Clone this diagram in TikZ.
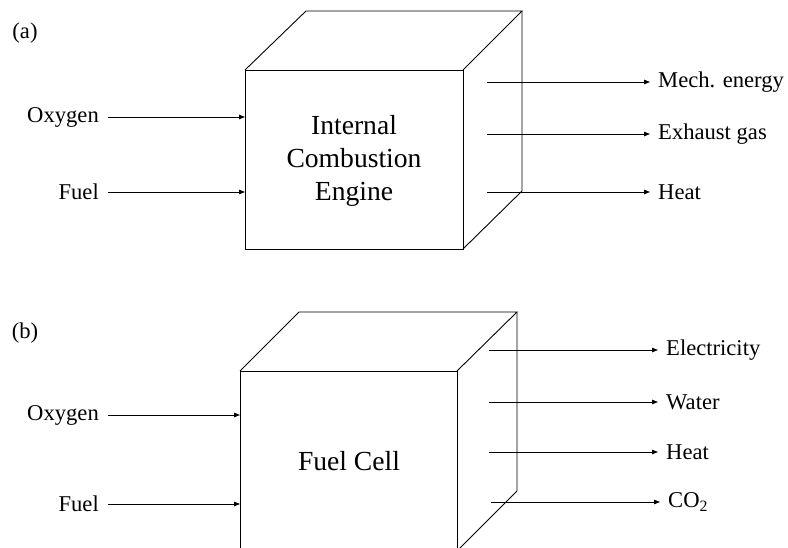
\documentclass[tikz,border=0pt]{standalone}
\usepackage{fontspec}
\setmainfont{Liberation Serif}
\usetikzlibrary{arrows.meta}
\begin{document}
\begin{tikzpicture}[x=1pt,y=-1pt,
  edge/.style={line width=0.9pt},
  arr/.style={line width=0.9pt,-{Triangle[length=6pt,width=4.5pt]}},
  lbl/.style={font=\fontsize{22.6}{26}\selectfont,inner sep=0pt},
  big/.style={font=\fontsize{27.6}{33}\selectfont,align=center,inner sep=0pt}]
\useasboundingbox (0,0) rectangle (788,548);
\begin{scope}
\clip (0,0) rectangle (788,548);
% ---- cube (a)
\coordinate (aFTL) at (245,70);
\coordinate (aFTR) at (463,70);
\coordinate (aFBR) at (463,249);
\coordinate (aFBL) at (245,249);
\coordinate (aBTL) at (306,11);
\coordinate (aBTR) at (522,11);
\coordinate (aBBR) at (522,191);
\draw[edge] (aFTL) -- (aFTR) -- (aFBR) -- (aFBL) -- cycle;
\draw[edge] (aFTL) -- (aBTL) -- (aBTR) -- (aFTR);
\draw[edge] (aBTR) -- (aBBR) -- (aFBR);
% ---- cube (b)
\coordinate (bFTL) at (240,371);
\coordinate (bFTR) at (457,371);
\coordinate (bFBR) at (457,551);
\coordinate (bFBL) at (240,551);
\coordinate (bBTL) at (299,312);
\coordinate (bBTR) at (517,312);
\coordinate (bBBR) at (517,491);
\draw[edge] (bFTL) -- (bFTR) -- (bFBR) -- (bFBL) -- cycle;
\draw[edge] (bFTL) -- (bBTL) -- (bBTR) -- (bFTR);
\draw[edge] (bBTR) -- (bBBR) -- (bFBR);
\end{scope}
% ---- labels
\node[lbl] (tagA) at (25,33) {(a)};
\node[lbl] (tagB) at (25,333) {(b)};
\node[big] (ice) at (354,161) {Internal\\Combustion\\Engine};
\node[big] (fc) at (349,461) {Fuel Cell};
% inputs (a)
\node[lbl,anchor=east] (oxyA) at (99,117) {Oxygen};
\node[lbl,anchor=east] (fuelA) at (99,192) {Fuel};
\coordinate (inA1) at (245,117);
\coordinate (inA2) at (245,192);
\draw[arr] ([xshift=9pt]oxyA.east) -- (inA1);
\draw[arr] ([xshift=9pt]fuelA.east) -- (inA2);
% outputs (a)
\node[lbl,anchor=west] (mechA) at (658,82) {Mech. energy};
\node[lbl,anchor=west] (exhA) at (658,134) {Exhaust gas};
\node[lbl,anchor=west] (heatA) at (658,192) {Heat};
\coordinate (outA1) at (487,82);
\coordinate (outA2) at (487,134);
\coordinate (outA3) at (487,192);
\draw[arr] (outA1) -- ([xshift=-8pt]mechA.west);
\draw[arr] (outA2) -- ([xshift=-8pt]exhA.west);
\draw[arr] (outA3) -- ([xshift=-8pt]heatA.west);
% inputs (b)
\node[lbl,anchor=east] (oxyB) at (99,415) {Oxygen};
\node[lbl,anchor=east] (fuelB) at (99,504) {Fuel};
\coordinate (inB1) at (240,415);
\coordinate (inB2) at (240,504);
\draw[arr] ([xshift=9pt]oxyB.east) -- (inB1);
\draw[arr] ([xshift=9pt]fuelB.east) -- (inB2);
% outputs (b)
\node[lbl,anchor=west] (elecB) at (666,350) {Electricity};
\node[lbl,anchor=west] (watB) at (666,402) {Water};
\node[lbl,anchor=west] (heatB) at (666,452) {Heat};
\node[lbl,anchor=west] (co2B) at (668,502) {CO\textsubscript{2}};
\coordinate (outB1) at (489,350);
\coordinate (outB2) at (489,402);
\coordinate (outB3) at (489,452);
\coordinate (outB4) at (491,502);
\draw[arr] (outB1) -- ([xshift=-8pt]elecB.west);
\draw[arr] (outB2) -- ([xshift=-8pt]watB.west);
\draw[arr] (outB3) -- ([xshift=-8pt]heatB.west);
\draw[arr] (outB4) -- ([xshift=-8pt]co2B.west);
\end{tikzpicture}
\end{document}
